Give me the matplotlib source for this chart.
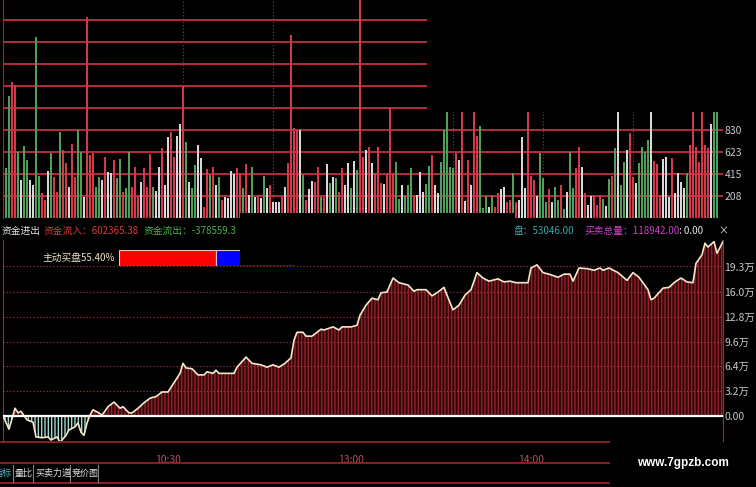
import numpy as np
import matplotlib.pyplot as plt
from matplotlib.patches import Rectangle
from matplotlib.lines import Line2D

plt.rcParams['font.family'] = ['Noto Sans CJK SC', 'DejaVu Sans']
plt.rcParams['hatch.linewidth'] = 1.0

W, H = 756, 487

# 分时成交量 (每分钟一根), 颜色: r=红 g=绿 w=白
vol = [472, 1152, 1284, 1256, 623, 359, 680, 548, 359, 312,
       1709, 396, 236, 170, 444, 614, 387, 245, 812, 642,
       519, 293, 699, 387, 831, 623, 198, 1897, 595, 614,
       293, 387, 359, 576, 434, 425, 548, 378, 557, 245,
       283, 623, 293, 481, 198, 340, 472, 293, 604, 293,
       255, 481, 661, 312, 765, 812, 576, 774, 887, 1246,
       717, 340, 283, 500, 689, 566, 104, 463, 406, 481,
       312, 387, 170, 198, 189, 444, 415, 472, 425, 283,
       510, 217, 481, 198, 217, 189, 396, 283, 312, 151,
       151, 151, 198, 293, 519, 1728, 850, 831, 831, 406,
       170, 274, 349, 340, 481, 198, 198, 510, 330, 387,
       378, 245, 472, 312, 519, 283, 538, 453, 2100, 576,
       642, 670, 519, 425, 670, 330, 321, 425, 1038, 425,
       529, 179, 312, 208, 312, 472, 217, 217, 434, 245,
       321, 491, 595, 312, 236, 529, 831, 1200, 481, 472,
       614, 548, 1200, 160, 548, 312, 1200, 774, 868, 94,
       208, 104, 208, 104, 236, 274, 293, 151, 170, 425,
       151, 170, 765, 283, 1200, 396, 359, 208, 614, 378,
       151, 274, 151, 293, 170, 312, 85, 245, 623, 283,
       472, 670, 481, 236, 123, 208, 208, 123, 217, 179,
       113, 368, 396, 661, 1200, 312, 529, 642, 802, 387,
       330, 519, 670, 623, 736, 1200, 538, 510, 217, 557,
       576, 198, 566, 236, 425, 340, 283, 425, 689, 1200,
       670, 529, 1200, 689, 661, 887, 1200, 1200]
vol_col = ("ggrrgwggww" "ggrrwgrrgr" "rwrrggwrrr" "ggwrwwrggr"
           "ggrrrwrrrg" "wwrwwrrwwr" "gwggwwrrgr" "wgrwwwwrrg"
           "rwgwrwgwrw" "wwrwrrrrwg" "rwwrrgrwgw" "grrwwgwgrr"
           "wrwrrrwrrr" "ggwgggrwww" "ggrwwggggg" "rwrwrwrrgg"
           "gwgrrwwrrg" "rwwwrrrwgg" "grwggrgwgg" "rrwrwwrrrg"
           "wgrgwggwrr" "wggggwrrrw" "wwrwwwwgrr" "rrrrrwgg")
vol_ticks = [208, 415, 623, 830, 1038]

# 买卖力道累计曲线 (分钟, 万)
line_min = [0, 2, 4, 5, 6, 8, 10, 11, 13, 15, 16, 18, 19, 21, 22, 24, 25, 26, 27, 28,
            29, 30, 32, 33, 35, 37, 39, 40, 42, 43, 45, 47, 49, 51, 53, 55, 57, 59, 60, 61,
            63, 65, 67, 68, 70, 71, 72, 77, 78, 81, 83, 86, 88, 90, 92, 94, 96, 97, 98, 100,
            101, 103, 106, 107, 110, 112, 113, 116, 118, 119, 121, 123, 125, 126, 128, 130, 132, 135, 137, 138,
            141, 143, 145, 147, 148, 150, 152, 154, 156, 158, 160, 162, 165, 167, 169, 171, 175, 176, 178, 180,
            182, 185, 187, 189, 190, 192, 195, 197, 199, 200, 202, 205, 208, 210, 212, 215, 216, 217, 220, 222,
            224, 226, 228, 230, 231, 233, 234, 235, 237, 238, 240]
line_val = [0.0, -1.7, 1.0, 0.4, 0.6, -0.5, -0.8, -2.7, -2.8, -2.7, -3.1, -2.7, -3.4, -2.5, -1.8, -1.4, -0.9, -2.1, -2.5, -0.9,
            0.1, 0.8, 0.4, 0.1, 1.2, 1.8, 1.0, 1.2, 0.4, 0.4, 1.0, 1.7, 2.3, 2.5, 3.1, 3.1, 4.3, 5.5, 6.8, 6.2,
            6.1, 5.3, 5.3, 5.7, 5.5, 5.9, 5.5, 5.5, 6.3, 7.6, 6.8, 6.6, 6.3, 6.6, 6.3, 6.8, 7.5, 9.8, 10.8, 10.8,
            10.3, 10.3, 11.2, 11.1, 11.5, 11.1, 11.5, 11.5, 11.7, 13.0, 14.3, 15.2, 15.0, 15.9, 16.0, 17.8, 17.2, 16.9, 16.1, 16.3,
            16.3, 15.5, 16.0, 16.6, 15.6, 13.7, 14.3, 15.6, 16.3, 18.5, 17.8, 17.4, 17.7, 17.3, 17.4, 17.2, 17.2, 19.1, 19.5, 18.5,
            18.3, 17.9, 18.3, 18.3, 17.4, 19.1, 19.0, 18.8, 19.1, 18.8, 19.1, 18.5, 17.5, 18.5, 17.9, 16.3, 15.0, 15.2, 16.5, 16.6,
            17.3, 17.8, 17.3, 17.2, 19.7, 20.8, 22.3, 21.8, 22.5, 21.0, 22.5]
flow_ticks = [0, 3.2, 6.4, 9.6, 12.8, 16.0, 19.3]
flow_labels = ['0.00', '3.2万', '6.4万', '9.6万', '12.8万', '16.0万', '19.3万']

time_pos = [55, 116, 176]
time_labels = ['10:30', '13:00', '14:00']
tabs = ['量比', '买卖力道', '竞价图']

buy_ratio = 55.40
inflow = 602365.38
outflow = -378559.3
pan = 53046.00
total = 118942.00


def fx(px):
    return px / W


def fy(py):
    return 1 - py / H


fig = plt.figure(figsize=(W / 100, H / 100), dpi=100, facecolor='black')

# 上方成交量
axv = fig.add_axes([fx(3), fy(218), 720 / W, 218 / H], facecolor='black')
cmap = {'r': '#d23a4a', 'g': '#4f9f58', 'w': '#d8d8d8'}
x_vol = np.arange(1, len(vol) + 1)
axv.bar(x_vol, vol, width=0.45, color=[cmap[c] for c in vol_col], linewidth=0, zorder=2)
for k in range(1, 10):
    axv.axhline(207.6 * k, color='#b82c3c', lw=1.4, zorder=1)
for m in [60, 90, 150, 180, 210]:
    axv.axvline(m, color='#a02838', lw=0.9, ls=':', zorder=1)
axv.set_xlim(0, 240)
axv.set_ylim(0, 218 * 9.44)
axv.set_xticks([])
axv.yaxis.tick_right()
axv.set_yticks(vol_ticks, [str(t) for t in vol_ticks])
axv.tick_params(axis='y', length=0, pad=1, labelsize=7.5, labelcolor='#c8c8c8')
for s in ['top', 'right', 'bottom']:
    axv.spines[s].set_visible(False)
axv.spines['left'].set_color('#b02030')

# 下方买卖力道
axf = fig.add_axes([fx(3), fy(441), 720 / W, 201 / H], facecolor='black')
m = np.array(line_min)
v = np.array(line_val)
axf.fill_between(m, v, 0, where=v >= 0, interpolate=True, facecolor='#2c0609',
                 edgecolor='#962028', hatch='|||||', linewidth=0, zorder=1)
axf.fill_between(m, v, 0, where=v <= 0, interpolate=True, facecolor='black',
                 edgecolor='#a0d8cc', hatch='|||||', linewidth=0, zorder=1)
for t in flow_ticks[1:]:
    axf.axhline(t, color='#c0303e', lw=0.8, ls=(0, (1, 2)), zorder=3)
axf.plot(m, v, color='#f2e8cc', lw=1.2, zorder=4)
axf.axhline(0, color='white', lw=1.6, zorder=5)
axf.set_xlim(0, 240)
axf.set_ylim(-25 / 7.75, 176 / 7.75)
axf.yaxis.tick_right()
axf.set_yticks(flow_ticks, flow_labels)
axf.tick_params(axis='y', length=0, pad=1, labelsize=7.5, labelcolor='#c8c8c8')
axf.set_xticks(time_pos, time_labels)
axf.tick_params(axis='x', length=0, pad=10, labelsize=7.5, labelcolor='#b85060')
for s in ['top', 'bottom']:
    axf.spines[s].set_visible(False)
for s in ['left', 'right']:
    axf.spines[s].set_color('#b02030')

# 主动买盘比例条
axb = fig.add_axes([fx(119), fy(266), 175 / W, 16 / H])
axb.barh([0], [buy_ratio], height=1, color='#ff0000', edgecolor='#f0c0c0', lw=0.8)
axb.barh([0], [100 - buy_ratio], left=buy_ratio, height=1, color='#0000ff', edgecolor='#f0c0c0', lw=0.8)
axb.set_xlim(0, 100)
axb.set_ylim(-0.5, 0.5)
axb.axis('off')

# 遮挡区域 (截图拼接处)
fig.patches.append(Rectangle((fx(427), fy(112)), (W - 427) / W, 112 / H,
                             transform=fig.transFigure, facecolor='black', zorder=10))
fig.patches.append(Rectangle((fx(240), fy(265)), 275 / W, 52 / H,
                             transform=fig.transFigure, facecolor='black', zorder=10))

# 信息行
fig.text(fx(2), fy(231), '资金进出', color='#e6e6e6', fontsize=7, va='center')
fig.text(fx(44), fy(231), f'资金流入：{inflow:.2f}', color='#d83a3a', fontsize=7, va='center')
fig.text(fx(144), fy(231), f'资金流出：{outflow}', color='#4cb04c', fontsize=7, va='center')
fig.text(fx(514), fy(231), f'盘：{pan:.2f}', color='#3aa8a8', fontsize=7, va='center')
fig.text(fx(584), fy(231), f'买卖总量：{total:.2f}', color='#d040c8', fontsize=7, va='center')
fig.text(fx(679), fy(231), ': 0.00', color='#e6e6e6', fontsize=7, va='center')
fig.text(fx(718), fy(231), '×', color='#e6e6e6', fontsize=7, va='center')
fig.text(fx(42), fy(258), f'主动买盘{buy_ratio:.2f}%', color='#ece4c4', fontsize=7, va='center')

# 底部分隔线与标签页
for yy in [442, 463, 483]:
    fig.add_artist(Line2D([0, fx(609)], [fy(yy), fy(yy)], color='#a8202c', lw=1.2))
for xx in [13, 33, 70, 98]:
    fig.add_artist(Line2D([fx(xx), fx(xx)], [fy(465), fy(482)], color='#808080', lw=0.8))
fig.text(fx(12), fy(473), '指标', color='#50c0c8', fontsize=6.5, va='center', ha='right')
for xx, t in zip([15, 36, 72], tabs):
    fig.text(fx(xx), fy(473), t, color='#e0e0e0', fontsize=6.5, va='center')

fig.text(fx(683), fy(463), 'www.7gpzb.com', color='white', fontsize=8.5, fontweight='bold',
         family='Liberation Sans', va='center', ha='center')

fig.savefig('out.png', dpi=100, facecolor='black')
